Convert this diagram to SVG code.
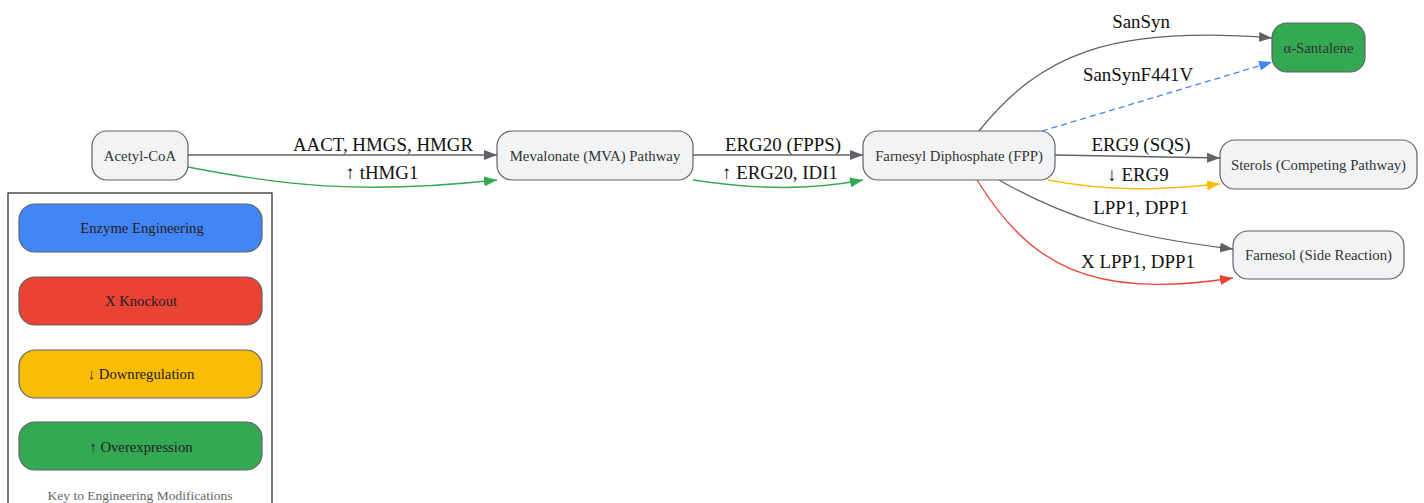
<svg xmlns="http://www.w3.org/2000/svg" width="1424" height="503" viewBox="0 0 1424 503">
<style>
.node rect{fill:#f1f3f4;stroke:#5f6368;stroke-width:1.2}
.nt{font-family:"Liberation Serif","DejaVu Serif",serif;font-size:14.8px;fill:#333;text-anchor:middle;dominant-baseline:central}
.el{font-family:"Liberation Serif","DejaVu Serif",serif;font-size:18.9px;fill:#111;text-anchor:middle}
.e{fill:none;stroke-width:1.3}
.g{stroke:#5f6368}
.gr{stroke:#34a853}
.bl{stroke:#4285f4;stroke-dasharray:6,4}
.rd{stroke:#ea4335}
.yl{stroke:#fbbc04}
.lg rect{stroke:#5f6368;stroke-width:1.2}
.lt{font-family:"Liberation Serif","DejaVu Serif",serif;font-size:14.7px;fill:#222;text-anchor:middle;dominant-baseline:central}
</style>
<defs>
<marker id="ag" markerUnits="userSpaceOnUse" markerWidth="14" markerHeight="10" refX="13" refY="5" orient="auto"><path d="M0,0 L13,5 L0,10 z" fill="#5f6368"/></marker>
<marker id="agr" markerUnits="userSpaceOnUse" markerWidth="14" markerHeight="10" refX="13" refY="5" orient="auto"><path d="M0,0 L13,5 L0,10 z" fill="#34a853"/></marker>
<marker id="abl" markerUnits="userSpaceOnUse" markerWidth="14" markerHeight="10" refX="13" refY="5" orient="auto"><path d="M0,0 L13,5 L0,10 z" fill="#4285f4"/></marker>
<marker id="ard" markerUnits="userSpaceOnUse" markerWidth="14" markerHeight="10" refX="13" refY="5" orient="auto"><path d="M0,0 L13,5 L0,10 z" fill="#ea4335"/></marker>
<marker id="ayl" markerUnits="userSpaceOnUse" markerWidth="14" markerHeight="10" refX="13" refY="5" orient="auto"><path d="M0,0 L13,5 L0,10 z" fill="#fbbc04"/></marker>
</defs>
<rect width="1424" height="503" fill="#fff"/>

<g id="connectors">
<path class="e g" d="M188,155 L497,155" marker-end="url(#ag)"/>
<path class="e gr" d="M188,167 C280,185 360,195 497,180" marker-end="url(#agr)"/>
<path class="e g" d="M693,155 L863,155" marker-end="url(#ag)"/>
<path class="e gr" d="M693,180 C760,190 810,190 863,180" marker-end="url(#agr)"/>
<path class="e g" d="M979,131 C1040,55 1110,25 1272,38" marker-end="url(#ag)"/>
<path class="e bl" d="M1042,131 L1272,62" marker-end="url(#abl)"/>
<path class="e g" d="M1055,155 L1220,158" marker-end="url(#ag)"/>
<path class="e yl" d="M1048,180 C1110,192 1160,190 1220,184" marker-end="url(#ayl)"/>
<path class="e g" d="M999,180 C1060,215 1120,236 1233,249" marker-end="url(#ag)"/>
<path class="e rd" d="M977,180 C1030,265 1090,300 1233,278" marker-end="url(#ard)"/>
</g>

<g id="edge-labels">
<text class="el" x="383" y="151">AACT, HMGS, HMGR</text>
<text class="el" x="382" y="179">↑ tHMG1</text>
<text class="el" x="783" y="151">ERG20 (FPPS)</text>
<text class="el" x="780" y="179">↑ ERG20, IDI1</text>
<text class="el" x="1141" y="28">SanSyn</text>
<text class="el" x="1138" y="81">SanSynF441V</text>
<text class="el" x="1141" y="151">ERG9 (SQS)</text>
<text class="el" x="1138" y="181">↓ ERG9</text>
<text class="el" x="1141" y="214">LPP1, DPP1</text>
<text class="el" x="1138" y="268">X LPP1, DPP1</text>
</g>

<g id="acetyl-coa" class="node"><rect x="92" y="131" width="96" height="49" rx="15"/><text class="nt" x="140" y="155.5">Acetyl-CoA</text></g>
<g id="mva" class="node"><rect x="497" y="131" width="196" height="49" rx="15"/><text class="nt" x="595" y="155.5">Mevalonate (MVA) Pathway</text></g>
<g id="fpp" class="node"><rect x="863" y="131" width="192" height="49" rx="15"/><text class="nt" x="959" y="155.5">Farnesyl Diphosphate (FPP)</text></g>
<g id="santalene" class="node"><rect x="1272" y="23" width="93" height="49" rx="15" style="fill:#34a853"/><text class="nt" x="1318.5" y="47.5">α-Santalene</text></g>
<g id="sterols" class="node"><rect x="1220" y="140" width="197" height="49" rx="15"/><text class="nt" x="1318.5" y="164.5">Sterols (Competing Pathway)</text></g>
<g id="farnesol" class="node"><rect x="1233" y="231" width="171" height="48" rx="15"/><text class="nt" x="1318.5" y="255">Farnesol (Side Reaction)</text></g>

<g id="legend" class="lg">
<rect x="8" y="193" width="264" height="320" fill="#fff" style="stroke:#222;stroke-width:1.2"/>
<g id="legend-enzyme"><rect x="19" y="204" width="243" height="48" rx="16" fill="#4285f4"/><text class="lt" x="142" y="228">Enzyme Engineering</text></g>
<g id="legend-knockout"><rect x="19" y="277" width="243" height="48" rx="16" fill="#ea4335"/><text class="lt" x="141" y="301">X Knockout</text></g>
<g id="legend-down"><rect x="19" y="350" width="243" height="48" rx="16" fill="#fbbc04"/><text class="lt" x="141" y="374">↓ Downregulation</text></g>
<g id="legend-over"><rect x="19" y="422" width="243" height="48" rx="16" fill="#34a853"/><text class="lt" x="141" y="447">↑ Overexpression</text></g>
<text x="140" y="495" style="font-family:'Liberation Serif',serif;font-size:13.5px;fill:#666;text-anchor:middle;dominant-baseline:central">Key to Engineering Modifications</text>
</g>
</svg>
